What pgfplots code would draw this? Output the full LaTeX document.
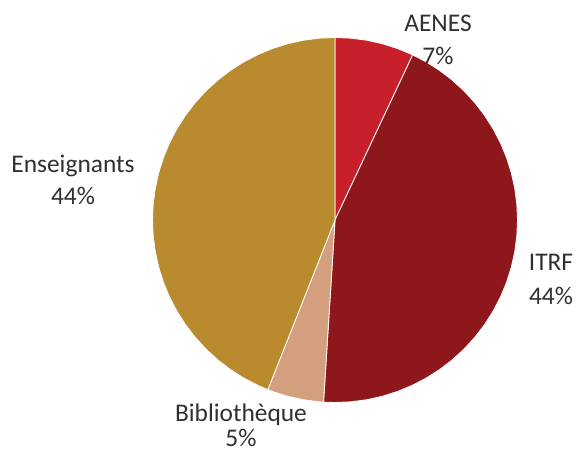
\documentclass[border=0pt]{standalone}
\usepackage{fontspec}
\setmainfont{Carlito}
\usepackage{pgfplots}
\usepgfplotslibrary{polar}
\pgfplotsset{compat=1.18}
\definecolor{aenes}{HTML}{C8202A}
\definecolor{itrf}{HTML}{8E171B}
\definecolor{biblio}{HTML}{D49F7E}
\definecolor{enseig}{HTML}{BA8A2F}
\definecolor{txt}{HTML}{303030}
\def\rr{182.5}
\tikzset{lbl/.style={font=\fontsize{25.5}{30}\selectfont, text=txt, anchor=base, inner sep=0pt}}
\begin{document}
\begin{tikzpicture}
\begin{axis}[
  width=577bp, height=452bp, scale only axis,
  xmin=-335, xmax=242, ymin=-232, ymax=220,
  hide axis, clip=false,
]
% AENES 7%
\addplot[data cs=polar, fill=aenes, draw=white, line width=0.8bp] coordinates {
  (0,0) (90,\rr) (85,\rr) (80,\rr) (75,\rr) (70,\rr) (64.8,\rr)
} -- cycle;
% ITRF 44%
\addplot[data cs=polar, fill=itrf, draw=white, line width=0.8bp] coordinates {
  (0,0) (64.8,\rr) (60,\rr) (55,\rr) (50,\rr) (45,\rr) (40,\rr) (35,\rr)
  (30,\rr) (25,\rr) (20,\rr) (15,\rr) (10,\rr) (5,\rr) (0,\rr) (-5,\rr)
  (-10,\rr) (-15,\rr) (-20,\rr) (-25,\rr) (-30,\rr) (-35,\rr) (-40,\rr)
  (-45,\rr) (-50,\rr) (-55,\rr) (-60,\rr) (-65,\rr) (-70,\rr) (-75,\rr)
  (-80,\rr) (-85,\rr) (-90,\rr) (-93.6,\rr)
} -- cycle;
% Bibliotheque 5%
\addplot[data cs=polar, fill=biblio, draw=white, line width=0.8bp] coordinates {
  (0,0) (-93.6,\rr) (-95,\rr) (-100,\rr) (-105,\rr) (-110,\rr) (-111.6,\rr)
} -- cycle;
% Enseignants 44%
\addplot[data cs=polar, fill=enseig, draw=white, line width=0.8bp] coordinates {
  (0,0) (-111.6,\rr) (-115,\rr) (-120,\rr) (-125,\rr) (-130,\rr) (-135,\rr)
  (-140,\rr) (-145,\rr) (-150,\rr) (-155,\rr) (-160,\rr) (-165,\rr)
  (-170,\rr) (-175,\rr) (-180,\rr) (-185,\rr) (-190,\rr) (-195,\rr)
  (-200,\rr) (-205,\rr) (-210,\rr) (-215,\rr) (-220,\rr) (-225,\rr)
  (-230,\rr) (-235,\rr) (-240,\rr) (-245,\rr) (-250,\rr) (-255,\rr)
  (-260,\rr) (-265,\rr) (-270,\rr)
} -- cycle;
% labels
\node[lbl] at (axis cs:103,188) {AENES};
\node[lbl] at (axis cs:103,155) {7\%};
\node[lbl] at (axis cs:216,-51) {ITRF};
\node[lbl] at (axis cs:216,-85) {44\%};
\node[lbl] at (axis cs:-262,47) {Enseignants};
\node[lbl] at (axis cs:-262,15) {44\%};
\node[lbl] at (axis cs:-94,-202) {Bibliothèque};
\node[lbl] at (axis cs:-94,-227) {5\%};
\end{axis}
\pgfresetboundingbox
\path (current axis.south west) rectangle (current axis.north east);
\end{tikzpicture}
\end{document}
